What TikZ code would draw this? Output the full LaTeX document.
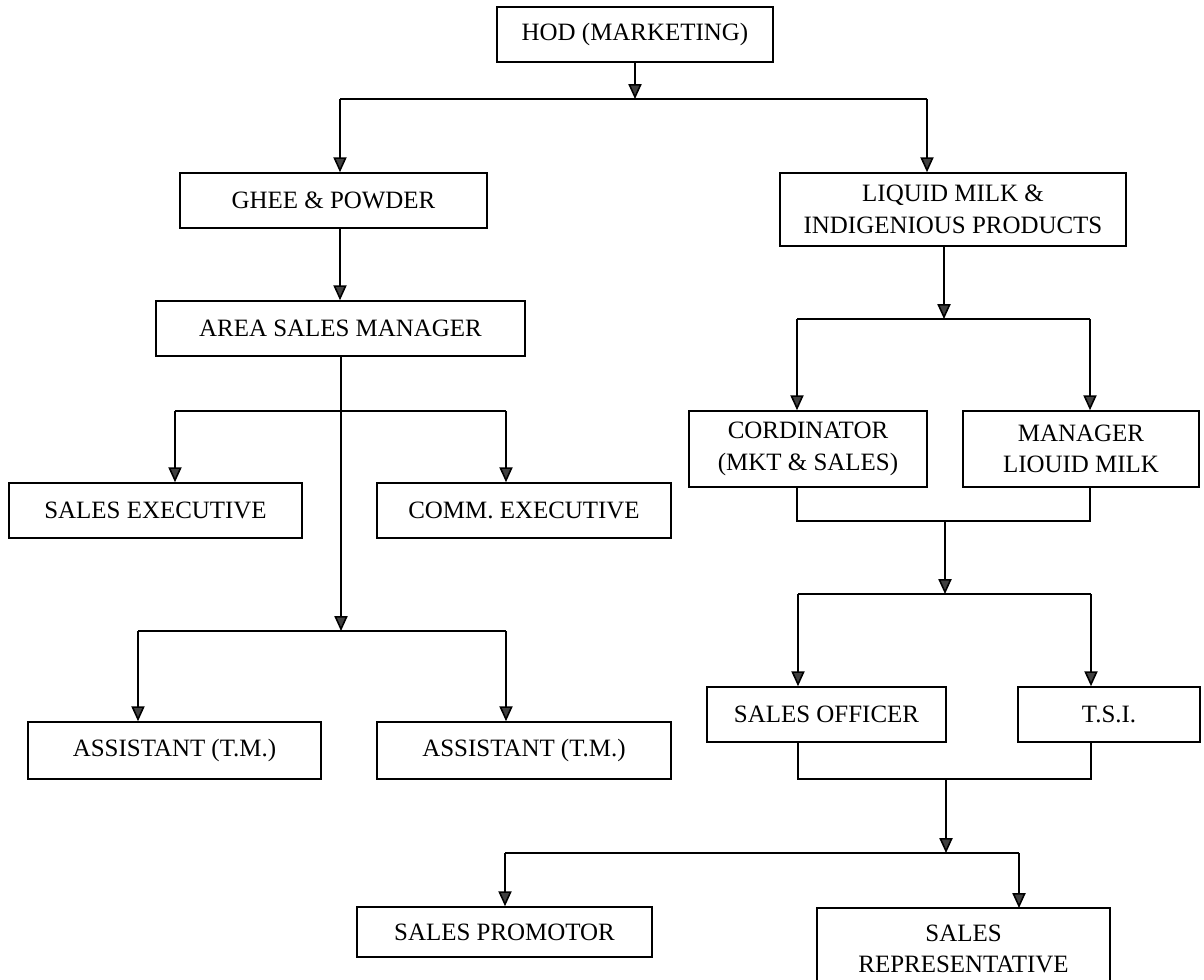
\documentclass[tikz,border=0pt]{standalone}
\usepackage{fontspec}
\setmainfont{Liberation Serif}
\usetikzlibrary{arrows.meta}

\tikzset{
	box/.style={draw, line width=0.9pt, align=center, inner sep=0pt,
		font=\fontsize{14.2}{18}\selectfont},
	link/.style={line width=0.9pt},
	arr/.style={link, -{Triangle[width=7.5pt, length=8.5pt, fill=darkgray]}}
}

\begin{document}
\begin{tikzpicture}[x=0.02cm, y=-0.02cm]
		\useasboundingbox (0, 0) rectangle (1204, 980);
		% top
		\node[box, minimum width=5.52cm, minimum height=1.1cm] (hod) at (635, 34.5) {HOD (MARKETING)};
		\node[box, minimum width=6.14cm, minimum height=1.1cm] (ghee) at (333.5, 200.5) {GHEE \& POWDER};
		\node[box, minimum width=6.92cm, minimum height=1.46cm] (liquid) at (953, 209.5) {LIQUID MILK \&\\INDIGENIOUS PRODUCTS};
		% ghee and powder side
		\node[box, minimum width=7.38cm, minimum height=1.1cm] (asm) at (340.5, 328.5) {AREA SALES MANAGER};
		\node[box, minimum width=5.86cm, minimum height=1.1cm] (salesexec) at (155.5, 510.5) {SALES EXECUTIVE};
		\node[box, minimum width=5.88cm, minimum height=1.1cm] (commexec) at (524, 510.5) {COMM. EXECUTIVE};
		\node[box, minimum width=5.86cm, minimum height=1.14cm] (asstone) at (174.5, 750.5) {ASSISTANT (T.M.)};
		\node[box, minimum width=5.88cm, minimum height=1.14cm] (assttwo) at (524, 750.5) {ASSISTANT (T.M.)};
		% liquid milk side
		\node[box, minimum width=4.76cm, minimum height=1.52cm] (cord) at (808, 449) {CORDINATOR\\(MKT \& SALES)};
		\node[box, minimum width=4.72cm, minimum height=1.52cm] (mgr) at (1081, 449) {MANAGER\\LIOUID MILK};
		\node[box, minimum width=4.78cm, minimum height=1.1cm] (officer) at (826.5, 714.5) {SALES OFFICER};
		\node[box, minimum width=3.64cm, minimum height=1.1cm] (tsi) at (1109, 714.5) {T.S.I.};
		\node[box, minimum width=5.9cm, minimum height=1cm] (promotor) at (504.5, 932) {SALES PROMOTOR};
		\node[box, draw=none, minimum width=5.86cm] (salesrep) at (963.5, 949) {SALES\\REPRESENTATIVE};
		\draw[link] (817, 1000) |- (1110, 908) -- (1110, 1000);

		% buses
		\coordinate (busa) at (635, 99);
		\coordinate (busal) at (340, 99);
		\coordinate (busar) at (927, 99);
		\coordinate (busb) at (341, 411);
		\coordinate (busbl) at (175, 411);
		\coordinate (busbr) at (506, 411);
		\coordinate (busc) at (341, 631);
		\coordinate (buscl) at (138, 631);
		\coordinate (buscr) at (506, 631);
		\coordinate (busd) at (944, 319);
		\coordinate (busdl) at (797, 319);
		\coordinate (busdr) at (1090, 319);
		\coordinate (jointa) at (945, 521);
		\coordinate (buse) at (945, 594);
		\coordinate (busel) at (798, 594);
		\coordinate (buser) at (1091, 594);
		\coordinate (jointb) at (946, 779);
		\coordinate (busf) at (946, 853);
		\coordinate (busfl) at (505, 853);
		\coordinate (busfr) at (1019, 853);

		% connectors
		\draw[arr] (hod) -- (busa);
		\draw[link] (busal) -- (busar);
		\draw[arr] (busal) -- (busal |- ghee.north);
		\draw[arr] (busar) -- (busar |- liquid.north);
		\draw[arr] (ghee.south -| busal) -- (busal |- asm.north);
		\draw[arr] (asm.south -| busb) -- (busc);
		\draw[link] (busbl) -- (busbr);
		\draw[arr] (busbl) -- (busbl |- salesexec.north);
		\draw[arr] (busbr) -- (busbr |- commexec.north);
		\draw[link] (buscl) -- (buscr);
		\draw[arr] (buscl) -- (buscl |- asstone.north);
		\draw[arr] (buscr) -- (buscr |- assttwo.north);
		\draw[arr] (liquid.south -| busd) -- (busd);
		\draw[link] (busdl) -- (busdr);
		\draw[arr] (busdl) -- (busdl |- cord.north);
		\draw[arr] (busdr) -- (busdr |- mgr.north);
		\draw[link] (cord.south -| busdl) |- (jointa) -| (mgr.south -| busdr);
		\draw[arr] (jointa) -- (buse);
		\draw[link] (busel) -- (buser);
		\draw[arr] (busel) -- (busel |- officer.north);
		\draw[arr] (buser) -- (buser |- tsi.north);
		\draw[link] (officer.south -| busel) |- (jointb) -| (tsi.south -| buser);
		\draw[arr] (jointb) -- (busf);
		\draw[link] (busfl) -- (busfr);
		\draw[arr] (busfl) -- (busfl |- promotor.north);
		\draw[arr] (busfr) -- (busfr |- 0, 908);
	\end{tikzpicture}
\end{document}
